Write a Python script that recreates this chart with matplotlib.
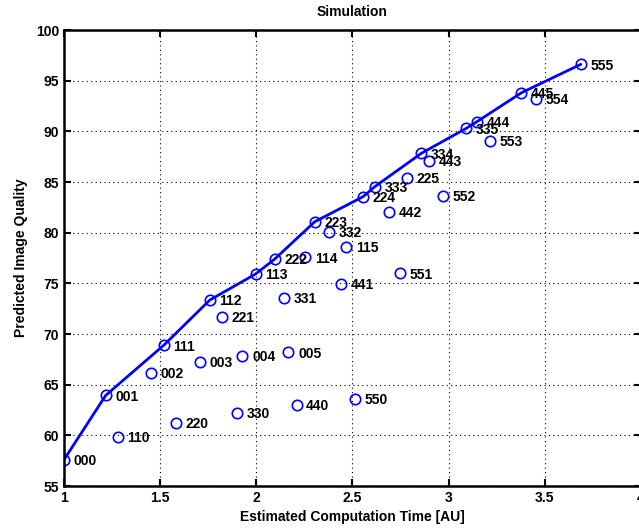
import matplotlib
matplotlib.use("Agg")
import matplotlib.pyplot as plt

plt.rcParams['font.family'] = ['Liberation Sans', 'DejaVu Sans']
plt.rcParams['font.weight'] = 'bold'

# Pareto frontier (connected by the line)
front_labels = ['000', '001', '111', '112', '113', '222', '223', '224',
                '333', '334', '335', '444', '445', '555']
front_x = [1.0, 1.217, 1.519, 1.758, 1.996, 2.096, 2.304, 2.555,
           2.616, 2.858, 3.092, 3.147, 3.378, 3.686]
front_y = [57.6, 63.95, 68.9, 73.35, 75.92, 77.4, 81.08, 83.55,
           84.54, 87.83, 90.3, 90.95, 93.8, 96.6]

# remaining configurations
other_labels = ['110', '220', '330', '440', '550', '002', '003', '004', '005',
                '221', '331', '441', '551', '114', '115', '332', '442', '225',
                '443', '552', '553', '554']
other_x = [1.279, 1.580, 1.902, 2.209, 2.512, 1.452, 1.706, 1.928, 2.167,
           1.819, 2.143, 2.439, 2.745, 2.255, 2.468, 2.380, 2.688, 2.785,
           2.898, 2.970, 3.213, 3.452]
other_y = [59.87, 61.25, 62.23, 62.99, 63.58, 66.18, 67.27, 67.83, 68.19,
           71.71, 73.58, 74.97, 75.99, 77.57, 78.62, 80.1, 82.07, 85.43,
           87.07, 83.62, 89.08, 93.19]

fig = plt.figure(figsize=(6.39, 5.31), dpi=100)
ax = fig.add_axes([0.1002, 0.0847, 0.9028, 0.8588])

ax.plot(front_x, front_y, '-', color='#0000ff', linewidth=2)
ax.plot(front_x, front_y, 'o', mfc='none', mec='#0000ff', ms=7.5, mew=1.2)
ax.plot(other_x, other_y, 'o', mfc='none', mec='#0000ff', ms=7.5, mew=1.2)

for lab, x, y in zip(front_labels + other_labels, front_x + other_x, front_y + other_y):
    ax.annotate(lab, (x, y), xytext=(7, -1), textcoords='offset points',
                fontsize=10, fontweight='bold', va='center', ha='left')

ax.set_xlim(1, 4)
ax.set_ylim(55, 100)
ax.set_xticks([1, 1.5, 2, 2.5, 3, 3.5, 4])
ax.set_xticklabels(['1', '1.5', '2', '2.5', '3', '3.5', '4'])
ax.set_yticks(range(55, 101, 5))
ax.tick_params(direction='in', top=True, right=True, labelsize=10, width=1.5, length=5)
for lbl in ax.get_xticklabels() + ax.get_yticklabels():
    lbl.set_fontweight('bold')
for sp in ax.spines.values():
    sp.set_linewidth(1.8)

ax.grid(True, linestyle=(0, (1, 3)), color='black', linewidth=0.8)
ax.set_xlabel('Estimated Computation Time [AU]', fontsize=10, fontweight='bold', labelpad=4)
ax.set_ylabel('Predicted Image Quality', fontsize=10, fontweight='bold', labelpad=6)
ax.set_title('Simulation', fontsize=10, fontweight='bold', pad=10)

fig.savefig('out.png', dpi=100)
